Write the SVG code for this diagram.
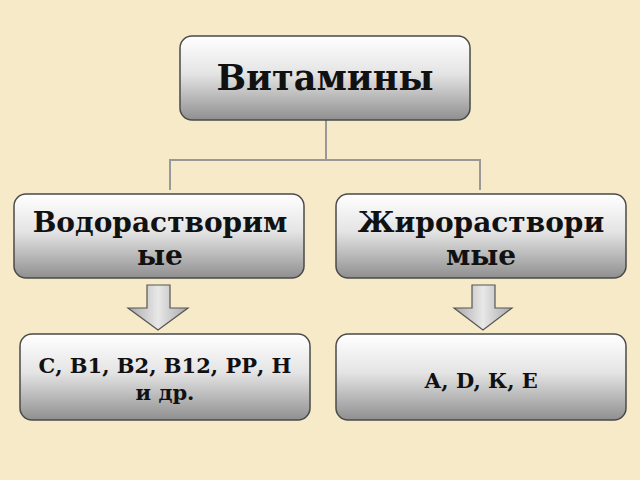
<svg xmlns="http://www.w3.org/2000/svg" width="640" height="480" viewBox="0 0 640 480">
<defs>
<linearGradient id="g" x1="0" y1="0" x2="0" y2="1">
<stop offset="0" stop-color="#ffffff"/><stop offset="0.45" stop-color="#e4e4e4"/><stop offset="1" stop-color="#8f8f8f"/>
</linearGradient>
<linearGradient id="a" x1="0" y1="0" x2="1" y2="0">
<stop offset="0" stop-color="#a8a8a8"/><stop offset="0.5" stop-color="#e8e8e8"/><stop offset="1" stop-color="#a8a8a8"/>
</linearGradient>
</defs>
<style>
.box{fill:url(#g);stroke:#4a4a4a;stroke-width:1.5}
.t{font-family:"DejaVu Serif",serif;font-weight:bold;fill:#111;text-anchor:middle}
.ln{stroke:#999;stroke-width:2;fill:none}
.ar{fill:url(#a);stroke:#555;stroke-width:1.2}
</style>
<rect width="640" height="480" fill="#f6eac8"/>
<g id="connectors">
<path class="ln" d="M326 120V160M170 190V160H480V190"/>
<path class="ar" d="M147 285H170V308H188L158 330L128 308H147Z"/>
<path class="ar" d="M472 285H495V308H512L483 330L454 308H472Z"/>
</g>
<g id="n1"><rect class="box" x="180" y="36" width="290" height="84" rx="12"/><text class="t" x="325" y="90" font-size="35">Витамины</text></g>
<g id="n2"><rect class="box" x="14" y="194" width="290" height="84" rx="12"/><text class="t" x="160" y="232" font-size="28">Водорастворим</text><text class="t" x="160" y="265" font-size="28">ые</text></g>
<g id="n3"><rect class="box" x="336" y="194" width="290" height="84" rx="12"/><text class="t" x="481" y="232" font-size="28">Жирораствори</text><text class="t" x="481" y="265" font-size="28">мые</text></g>
<g id="n4"><rect class="box" x="20" y="334" width="290" height="86" rx="12"/><text class="t" x="165" y="373" font-size="21">С, В1, В2, В12, РР, Н</text><text class="t" x="165" y="400" font-size="21">и др.</text></g>
<g id="n5"><rect class="box" x="336" y="334" width="290" height="86" rx="12"/><text class="t" x="481" y="388" font-size="21">А, D, К, Е</text></g>
</svg>
